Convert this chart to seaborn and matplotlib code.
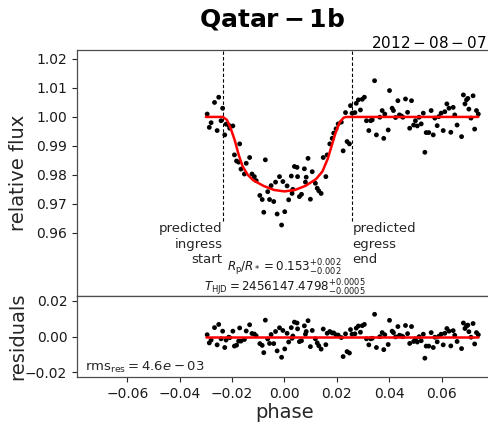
import numpy as np
import pandas as pd
import matplotlib
matplotlib.use("Agg")
import matplotlib.pyplot as plt
import seaborn as sns

# ---- data ----
phase = [-0.0295, -0.0287, -0.0280, -0.0267, -0.0257, -0.0251, -0.0242, -0.0236, -0.0228, -0.0223,
         -0.0213, -0.0209, -0.0197, -0.0191, -0.0183, -0.0175, -0.0171, -0.0166, -0.0153, -0.0146,
         -0.0133, -0.0124, -0.0115, -0.0108, -0.0094, -0.0085, -0.0079, -0.0073, -0.0064, -0.0057,
         -0.0051, -0.0041, -0.0034, -0.0028, -0.0019, -0.0011, -0.0006, 0.0001, 0.0010, 0.0016,
         0.0026, 0.0032, 0.0038, 0.0029, 0.0048, 0.0050, 0.0057, 0.0065, 0.0076, 0.0080,
         0.0083, 0.0090, 0.0099, 0.0106, 0.0118, 0.0125, 0.0131, 0.0140, 0.0148, 0.0158,
         0.0163, 0.0173, 0.0182, 0.0188, 0.0197, 0.0205, 0.0217, 0.0224, 0.0233, 0.0239,
         0.0248, 0.0252, 0.0258, 0.0269, 0.0274, 0.0282, 0.0290, 0.0297, 0.0305, 0.0313,
         0.0322, 0.0329, 0.0335, 0.0344, 0.0351, 0.0364, 0.0373, 0.0379, 0.0383, 0.0401,
         0.0396, 0.0411, 0.0416, 0.0424, 0.0433, 0.0439, 0.0447, 0.0452, 0.0462, 0.0470,
         0.0478, 0.0485, 0.0493, 0.0500, 0.0507, 0.0514, 0.0522, 0.0530, 0.0536, 0.0541,
         0.0551, 0.0560, 0.0568, 0.0574, 0.0583, 0.0589, 0.0598, 0.0606, 0.0612, 0.0620,
         0.0628, 0.0635, 0.0644, 0.0650, 0.0659, 0.0676, 0.0683, 0.0689, 0.0695, 0.0700,
         0.0704, 0.0712, 0.0720, 0.0726, 0.0733, 0.0740]
flux = [1.0010, 0.9964, 0.9980, 1.0050, 0.9953, 1.0068, 0.9987, 1.0030, 0.9938, 0.9975,
        0.9972, 0.9961, 0.9969, 0.9869, 0.9848, 0.9844, 0.9907, 0.9820, 0.9803, 0.9840,
        0.9860, 0.9803, 0.9794, 0.9780, 0.9729, 0.9715, 0.9671, 0.9852, 0.9742, 0.9715,
        0.9763, 0.9708, 0.9775, 0.9665, 0.9794, 0.9627, 0.9777, 0.9673, 0.9762, 0.9714,
        0.9796, 0.9750, 0.9829, 0.9736, 0.9826, 0.9794, 0.9725, 0.9733, 0.9821, 0.9775,
        0.9792, 0.9857, 0.9716, 0.9811, 0.9771, 0.9754, 0.9745, 0.9736, 0.9860, 0.9794,
        0.9869, 0.9907, 0.9926, 0.9944, 0.9959, 0.9976, 0.9982, 0.9883, 1.0015, 0.9915,
        0.9907, 1.0039, 1.0013, 1.0015, 1.0047, 1.0059, 1.0024, 1.0061, 1.0068, 0.9987,
        0.9953, 0.9987, 0.9990, 1.0125, 0.9938, 0.9999, 1.0022, 0.9926, 1.0010, 1.0091,
        0.9955, 1.0030, 1.0022, 0.9998, 1.0056, 1.0007, 1.0003, 0.9999, 1.0062, 1.0016,
        0.9961, 1.0056, 0.9972, 0.9987, 0.9969, 0.9999, 0.9976, 1.0013, 0.9878, 0.9946,
        0.9946, 1.0022, 0.9938, 0.9996, 0.9970, 1.0001, 1.0013, 0.9953, 1.0018, 1.0045,
        1.0030, 0.9947, 1.0033, 1.0007, 0.9972, 0.9932, 1.0076, 1.0045, 1.0059, 1.0064,
        1.0027, 0.9996, 1.0073, 0.9958, 1.0022, 1.0010]
residual = [0.0010, -0.0036, -0.0020, 0.0050, -0.0047, 0.0068, -0.0013, 0.0030, -0.0062, -0.0020,
            -0.0004, -0.0007, 0.0030, -0.0054, -0.0049, -0.0026, 0.0048, -0.0026, -0.0017, 0.0031,
            0.0066, 0.0017, 0.0014, 0.0004, -0.0040, -0.0050, -0.0091, 0.0092, -0.0014, -0.0039,
            0.0011, -0.0040, 0.0028, -0.0081, 0.0049, -0.0117, 0.0034, -0.0070, 0.0018, -0.0031,
            0.0050, 0.0003, 0.0081, -0.0010, 0.0076, 0.0043, -0.0029, -0.0024, 0.0060, 0.0013,
            0.0028, 0.0089, -0.0057, 0.0034, -0.0013, -0.0036, -0.0052, -0.0071, 0.0042, -0.0046,
            0.0018, 0.0028, 0.0020, 0.0020, 0.0009, 0.0008, -0.0006, -0.0113, 0.0015, -0.0085,
            -0.0093, 0.0039, 0.0013, 0.0015, 0.0047, 0.0059, 0.0024, 0.0061, 0.0068, -0.0013,
            -0.0047, -0.0013, -0.0010, 0.0125, -0.0062, -0.0001, 0.0022, -0.0074, 0.0010, 0.0091,
            -0.0045, 0.0030, 0.0022, -0.0002, 0.0056, 0.0007, 0.0003, -0.0001, 0.0062, 0.0016,
            -0.0039, 0.0056, -0.0028, -0.0013, -0.0031, -0.0001, -0.0024, 0.0013, -0.0122, -0.0054,
            -0.0054, 0.0022, -0.0062, -0.0004, -0.0030, 0.0001, 0.0013, -0.0047, 0.0018, 0.0045,
            0.0030, -0.0053, 0.0033, 0.0007, -0.0028, -0.0068, 0.0076, 0.0045, 0.0059, 0.0064,
            0.0027, -0.0004, 0.0073, -0.0042, 0.0022, 0.0010]

model_phase = [-0.0300, -0.0235, -0.0220, -0.0205, -0.0190, -0.0175, -0.0160, -0.0140, -0.0120,
               -0.0080, -0.0040, 0.0000, 0.0040, 0.0080, 0.0120, 0.0145, 0.0165, 0.0180, 0.0195,
               0.0210, 0.0225, 0.0235, 0.0740]
model_flux = [1.0000, 1.0000, 0.9990, 0.9960, 0.9920, 0.9870, 0.9830, 0.9800, 0.9782,
              0.9762, 0.9748, 0.9743, 0.9748, 0.9762, 0.9785, 0.9812, 0.9855, 0.9900, 0.9945,
              0.9980, 0.9997, 1.0000, 1.0000]
resid_line_phase = [-0.0300, 0.0740]
resid_line_value = [0.0, 0.0]

ingress_phase = -0.0233
egress_phase = 0.0256

title = r"$\bf{Qatar-1b}$"
date_label = r"$2012-08-07$"
rp_label = r"$R_{\rm p}/R_* = 0.153^{+0.002}_{-0.002}$"
t_label = r"$T_{\rm HJD} = 2456147.4798^{+0.0005}_{-0.0005}$"
rms_label = r"$\mathrm{rms_{res}} = 4.6e-03$"

# ---- plotting ----
sns.set_style("ticks")
plt.rcParams["font.family"] = ["DejaVu Sans"]
plt.rcParams["xtick.direction"] = "out"
plt.rcParams["ytick.direction"] = "out"

W, H = 489, 423
fig = plt.figure(figsize=(W / 100, H / 100), dpi=100)
left = 77 / W
right = 1.006
ax1 = fig.add_axes([left, 1 - 296 / H, right - left, (296 - 50) / H])
ax2 = fig.add_axes([left, 1 - 377 / H, right - left, (377 - 296) / H], sharex=ax1)

df = pd.DataFrame({"phase": phase, "flux": flux, "residual": residual})
dm = pd.DataFrame({"phase": model_phase, "flux": model_flux})
dr = pd.DataFrame({"phase": resid_line_phase, "value": resid_line_value})

sns.scatterplot(data=df, x="phase", y="flux", ax=ax1, color="black", s=12,
                edgecolor="none", linewidth=0, legend=False, zorder=3)
sns.lineplot(data=dm, x="phase", y="flux", ax=ax1, color="red", linewidth=1.8,
             estimator=None, sort=False, zorder=4)
sns.scatterplot(data=df, x="phase", y="residual", ax=ax2, color="black", s=12,
                edgecolor="none", linewidth=0, legend=False, zorder=3)
sns.lineplot(data=dr, x="phase", y="value", ax=ax2, color="red", linewidth=1.8,
             estimator=None, zorder=4)

ax1.set_xlim(-0.0792, 0.0792)
ax1.set_ylim(0.9382, 1.0231)
ax2.set_ylim(-0.0228, 0.0228)

ax1.set_yticks([0.96, 0.97, 0.98, 0.99, 1.00, 1.01, 1.02])
ax1.set_yticklabels(["0.96", "0.97", "0.98", "0.99", "1.00", "1.01", "1.02"])
ax2.set_yticks([-0.02, 0.0, 0.02])
ax2.set_yticklabels(["\u22120.02", "0.00", "0.02"])
ax2.set_xticks([-0.06, -0.04, -0.02, 0.0, 0.02, 0.04, 0.06])
ax2.set_xticklabels(["\u22120.06", "\u22120.04", "\u22120.02", "0.00", "0.02", "0.04", "0.06"])
ax1.tick_params(axis="x", labelbottom=False)
for ax in (ax1, ax2):
    ax.tick_params(labelsize=10, length=3.5, width=0.8, colors="0.15", labelcolor="0.1")
    for s in ax.spines.values():
        s.set_linewidth(0.9)
        s.set_color("0.3")
    ax.set_xlabel("")

ax1.set_ylabel("relative flux", fontsize=14)
ax2.set_ylabel("residuals", fontsize=14)
ax2.set_xlabel("phase", fontsize=14, labelpad=2)
ax1.yaxis.set_label_coords(-0.119, 0.5)
ax2.yaxis.set_label_coords(-0.119, 0.5)

# predicted ingress / egress lines
for xp in (ingress_phase, egress_phase):
    ax1.axvline(xp, ymin=(0.9640 - 0.9382) / (1.0231 - 0.9382), ymax=1.0,
                color="black", linestyle="--", linewidth=0.8, dashes=(3, 2))
ax1.text(ingress_phase - 0.0004, 0.9637, "predicted\ningress\nstart", ha="right", va="top",
         fontsize=9.5, color="0.15", linespacing=1.25)
ax1.text(egress_phase + 0.0004, 0.9637, "predicted\negress\nend", ha="left", va="top",
         fontsize=9.5, color="0.15", linespacing=1.25)

ax1.text(0.0, 0.9479, rp_label, ha="center", va="center", fontsize=8.6, color="0.1")
ax1.text(0.0, 0.9411, t_label, ha="center", va="center", fontsize=8.6, color="0.1")
ax2.text(0.02, 0.12, rms_label, transform=ax2.transAxes, ha="left", va="center",
         fontsize=9.5, color="0.15")

fig.text(272 / W, 1 - 19 / H, title, ha="center", va="center", fontsize=18, color="black")
fig.text(487 / W, 1 - 43 / H, date_label, ha="right", va="center", fontsize=11, color="black")

fig.savefig("out.png", dpi=100)
